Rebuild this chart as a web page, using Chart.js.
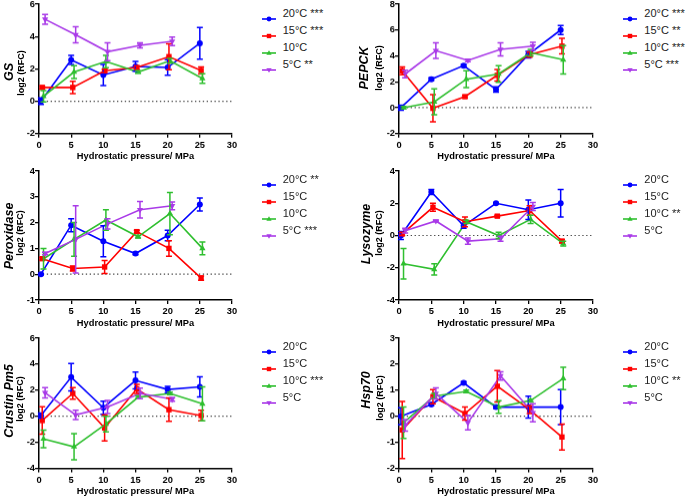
<!DOCTYPE html>
<html><head><meta charset="utf-8">
<script src="https://cdn.jsdelivr.net/npm/chart.js@4"></script>
<style>
body{margin:0;width:685px;height:498px;position:relative;overflow:hidden;background:#fff;font-family:"Liberation Sans",Arial,sans-serif;}
.box{position:absolute;}
.yt{position:absolute;transform:translate(-50%,-50%) rotate(-90deg);white-space:nowrap;font-weight:bold;color:#000;line-height:1;}
.lt{position:absolute;font-size:11px;line-height:13px;color:#222;white-space:nowrap;}
.lm{position:absolute;}
</style></head><body>
<script>
// x positions (MPa, nudged as in the original figure)
const x20 = [0.3, 5, 10, 15, 20, 25];
const x15 = [0.5, 5.25, 10.2, 15.2, 20.2, 25.2];
const x10 = [0.7, 5.45, 10.4, 15.4, 20.35, 25.4];
const x5  = [0.95, 5.7, 10.65, 15.7, 20.7];

// GS
const gs20 = [0, 2.55, 1.62, 2.15, 2.08, 3.58], gs20e = [0.2, 0.28, 0.65, 0.3, 0.48, 0.98];
const gs15 = [0.85, 0.85, 1.88, 2.08, 2.75, 1.9], gs15e = [0.08, 0.38, 0.1, 0.1, 0.8, 0.22];
const gs10 = [0.3, 1.8, 2.45, 1.8, 2.5, 1.4], gs10e = [0.35, 0.4, 0.38, 0.08, 0.15, 0.3];
const gs5  = [5.06, 4.1, 3.06, 3.45, 3.7], gs5e = [0.3, 0.5, 0.55, 0.15, 0.27];
const gsLabels = ['20°C ***', '15°C ***', '10°C', '5°C **'];

// PEPCK
const pe20 = [0, 2.2, 3.25, 1.4, 4.1, 6.0], pe20e = [0.2, 0.1, 0.1, 0.2, 0.25, 0.35];
const pe15 = [2.85, -0.05, 0.85, 2.5, 4.1, 4.75], pe15e = [0.3, 1.05, 0.1, 0.45, 0.2, 0.6];
const pe10 = [0, 0.45, 2.2, 2.6, 4.25, 3.7], pe10e = [0.1, 1.0, 0.65, 0.65, 0.25, 1.1];
const pe5  = [2.6, 4.4, 3.65, 4.5, 4.75], pe5e = [0.3, 0.6, 0.1, 0.5, 0.3];
const peLabels = ['20°C ***', '15°C **', '10°C ***', '5°C ***'];

// Peroxidase
const px20 = [0, 1.9, 1.28, 0.8, 1.5, 2.7], px20e = [0.03, 0.25, 0.6, 0.05, 0.2, 0.25];
const px15 = [0.6, 0.22, 0.28, 1.65, 1.0, -0.15], px15e = [0.05, 0.1, 0.25, 0.05, 0.3, 0.08];
const px10 = [0.6, 1.35, 2.1, 1.45, 2.35, 1.0], px10e = [0.4, 0.65, 0.4, 0.05, 0.82, 0.25];
const px5  = [0.8, 1.35, 1.95, 2.5, 2.65], px5e = [0.05, 1.3, 0.2, 0.32, 0.15];
const pxLabels = ['20°C **', '15°C', '10°C', '5°C ***'];

// Lysozyme
const ly20 = [0, 2.7, 0.6, 2.0, 1.6, 2.0], ly20e = [0.25, 0.15, 0.15, 0.05, 0.6, 0.85];
const ly15 = [0.1, 1.75, 0.85, 1.2, 1.55, -0.35], ly15e = [0.1, 0.25, 0.3, 0.05, 0.3, 0.1];
const ly10 = [-1.75, -2.1, 0.85, 0, 1.0, -0.5], ly10e = [0.95, 0.35, 0.1, 0.2, 0.25, 0.15];
const ly5  = [0.3, 0.9, -0.35, -0.2, 1.8], ly5e = [0.15, 0.05, 0.2, 0.15, 0.25];
const lyLabels = ['20°C', '15°C', '10°C **', '5°C'];

// Crustin Pm5
const cr20 = [0.05, 3.0, 0.65, 2.75, 2.05, 2.25], cr20e = [0.2, 1.05, 0.5, 0.65, 0.25, 0.78];
const cr15 = [-0.33, 1.75, -0.9, 2.1, 0.5, 0.05], cr15e = [1.05, 0.45, 1.0, 0.35, 0.9, 0.4];
const cr10 = [-1.75, -2.35, -0.6, 1.45, 1.75, 0.95], cr10e = [0.67, 1.0, 0.6, 0.1, 0.1, 1.3];
const cr5  = [1.8, 0.1, 0.7, 1.75, 1.3], cr5e = [0.4, 0.35, 0.5, 0.4, 0.15];
const crLabels = ['20°C', '15°C', '10°C ***', '5°C'];

// Hsp70
const hs20 = [0, 0.45, 1.28, 0.35, 0.35, 0.35], hs20e = [0.32, 0.05, 0.05, 0.05, 0.42, 0.67];
const hs15 = [-0.53, 0.75, 0.1, 1.15, 0.25, -0.8], hs15e = [1.1, 0.27, 0.25, 0.6, 0.15, 0.5];
const hs10 = [-0.25, 0.77, 0.95, 0.35, 0.6, 1.45], hs10e = [0.6, 0.1, 0.05, 0.24, 0.05, 0.43];
const hs5  = [-0.35, 0.87, -0.25, 1.55, 0.13], hs5e = [0.22, 0.22, 0.28, 0.16, 0.35];
const hsLabels = ['20°C', '15°C', '10°C **', '5°C'];

const COLORS = ['#0000ff', '#ff0000', '#2fbf2f', '#a93ae8'];
const XS = [x20, x15, x10, x5];
const STYLES = [
  {pointStyle: 'circle', pointRadius: 3, rotation: 0},
  {pointStyle: 'rect', pointRadius: 3.8, rotation: 0},
  {pointStyle: 'triangle', pointRadius: 3.6, rotation: 0},
  {pointStyle: 'triangle', pointRadius: 3.6, rotation: 180}
];

const panels = [
  {name: 'GS', L: 39.3, T: 4, R: 232.3, B: 132.7, min: -2, max: 6, step: 2,
   s: [[gs20, gs20e], [gs15, gs15e], [gs10, gs10e], [gs5, gs5e]], labels: gsLabels,
   nx: 8.5, ny: 72, lx: 21.3, ly: 72.5, gx: 261.7, gy: 13.3},
  {name: 'PEPCK', L: 398.8, T: 4, R: 592.8, B: 132.7, min: -2, max: 8, step: 2,
   s: [[pe20, pe20e], [pe15, pe15e], [pe10, pe10e], [pe5, pe5e]], labels: peLabels,
   nx: 364.3, ny: 68, lx: 379.3, ly: 67.5, gx: 623.3, gy: 13.3},
  {name: 'Peroxidase', L: 39.3, T: 171, R: 232.3, B: 300, min: -1, max: 4, step: 1,
   s: [[px20, px20e], [px15, px15e], [px10, px10e], [px5, px5e]], labels: pxLabels,
   nx: 8.7, ny: 236, lx: 20.3, ly: 232.5, gx: 261.7, gy: 179.3},
  {name: 'Lysozyme', L: 398.8, T: 171, R: 592.8, B: 300, min: -4, max: 4, step: 2,
   s: [[ly20, ly20e], [ly15, ly15e], [ly10, ly10e], [ly5, ly5e]], labels: lyLabels,
   nx: 365.7, ny: 234, lx: 379.3, ly: 233, gx: 623.3, gy: 179.3},
  {name: 'Crustin Pm5', L: 39.3, T: 338.3, R: 232.3, B: 467.7, min: -4, max: 6, step: 2,
   s: [[cr20, cr20e], [cr15, cr15e], [cr10, cr10e], [cr5, cr5e]], labels: crLabels,
   nx: 8.7, ny: 401, lx: 20.3, ly: 398.5, gx: 261.7, gy: 346.3},
  {name: 'Hsp70', L: 398.8, T: 338.3, R: 592.8, B: 467.7, min: -2, max: 3, step: 1,
   s: [[hs20, hs20e], [hs15, hs15e], [hs10, hs10e], [hs5, hs5e]], labels: hsLabels,
   nx: 365.7, ny: 390, lx: 380, ly: 398, gx: 623.3, gy: 346.3}
];

const errPlugin = {
  id: 'errbars',
  afterDatasetsDraw(chart) {
    const ctx = chart.ctx, xs = chart.scales.x, ys = chart.scales.y;
    chart.data.datasets.forEach(ds => {
      if (!ds.err) return;
      ctx.save();
      ctx.strokeStyle = ds.borderColor;
      ctx.lineWidth = 1.5;
      ds.data.forEach((pt, j) => {
        const e = ds.err[j];
        if (!e) return;
        const px = xs.getPixelForValue(pt.x);
        const y1 = ys.getPixelForValue(pt.y + e), y2 = ys.getPixelForValue(pt.y - e);
        ctx.beginPath();
        ctx.moveTo(px, y1); ctx.lineTo(px, y2);
        ctx.moveTo(px - 3, y1); ctx.lineTo(px + 3, y1);
        ctx.moveTo(px - 3, y2); ctx.lineTo(px + 3, y2);
        ctx.stroke();
      });
      ctx.restore();
    });
  }
};

const FONT = '"Liberation Sans", Arial, sans-serif';

function legendMarker(i) {
  const c = COLORS[i];
  let m = '';
  if (i === 0) m = `<circle cx="7" cy="4" r="2.4" fill="${c}"/>`;
  else if (i === 1) m = `<rect x="4.8" y="1.8" width="4.4" height="4.4" fill="${c}"/>`;
  else if (i === 2) m = `<polygon points="7,1.3 9.6,5.8 4.4,5.8" fill="${c}"/>`;
  else m = `<polygon points="7,6.7 9.6,2.2 4.4,2.2" fill="${c}"/>`;
  return `<svg width="14" height="8" viewBox="0 0 14 8"><line x1="0" y1="4" x2="14" y2="4" stroke="${c}" stroke-width="1.6"/>${m}</svg>`;
}

panels.forEach(p => {
  const PADL = 10, YW = 30, PADR = 20, PADT = 12, XH = 30;
  const W = PADL + YW + (p.R - p.L) + PADR;
  const H = PADT + (p.B - p.T) + XH;
  const box = document.createElement('div');
  box.className = 'box';
  box.style.width = W + 'px';
  box.style.height = H + 'px';
  box.style.left = (p.L - PADL - YW) + 'px';
  box.style.top = (p.T - PADT) + 'px';
  const cv = document.createElement('canvas');
  box.appendChild(cv);
  document.body.appendChild(box);

  const datasets = [{
    data: [{x: 0, y: 0}, {x: 30, y: 0}],
    borderColor: '#444', borderWidth: 1.2, borderDash: [1.3, 2.6],
    pointRadius: 0, order: 10, clip: false, fill: false
  }];
  p.s.forEach((ser, i) => {
    const xs = XS[i];
    datasets.push({
      data: ser[0].map((v, j) => ({x: xs[j], y: v})),
      err: ser[1],
      borderColor: COLORS[i], backgroundColor: COLORS[i],
      borderWidth: 1.6,
      pointStyle: STYLES[i].pointStyle, pointRadius: STYLES[i].pointRadius,
      pointRotation: STYLES[i].rotation, pointBorderWidth: 0,
      order: 4 - i, clip: false, fill: false, tension: 0
    });
  });

  const tickFont = {family: FONT, size: 9.3, weight: 'bold'};
  const chart = new Chart(cv, {
    type: 'line',
    data: {datasets},
    options: {
      responsive: true, maintainAspectRatio: false, animation: false,
      layout: {padding: {left: PADL, right: PADR, top: PADT, bottom: 0}},
      plugins: {legend: {display: false}, tooltip: {enabled: false}},
      scales: {
        x: {
          type: 'linear', min: 0, max: 30,
          ticks: {stepSize: 5, color: '#000', font: tickFont, padding: 2, maxRotation: 0},
          grid: {display: true, drawOnChartArea: false, drawTicks: true, tickLength: 4, color: '#000', lineWidth: 1.3},
          border: {display: true, color: '#000', width: 1.5},
          title: {display: true, text: 'Hydrostatic pressure/ MPa', color: '#000',
                  font: {family: FONT, size: 9.3, weight: 'bold'}, padding: {top: 0, bottom: 1.4}},
          afterFit(s) { s.height = XH; }
        },
        y: {
          type: 'linear', min: p.min, max: p.max,
          ticks: {stepSize: p.step, color: '#000', font: tickFont, padding: 0},
          grid: {display: true, drawOnChartArea: false, drawTicks: true, tickLength: 4, color: '#000', lineWidth: 1.3},
          border: {display: true, color: '#000', width: 1.5},
          afterFit(s) { s.width = YW; }
        }
      }
    },
    plugins: [errPlugin]
  });
  const ca = chart.chartArea;
  box.style.left = (p.L - ca.left) + 'px';
  box.style.top = (p.T - ca.top) + 'px';

  // y-axis titles
  const n = document.createElement('div');
  n.className = 'yt';
  n.style.cssText += `left:${p.nx}px;top:${p.ny}px;font-size:12.5px;font-style:italic;`;
  n.textContent = p.name;
  document.body.appendChild(n);
  const l = document.createElement('div');
  l.className = 'yt';
  l.style.cssText += `left:${p.lx}px;top:${p.ly}px;font-size:9px;`;
  l.textContent = 'log2 (RFC)';
  document.body.appendChild(l);

  // legend
  p.labels.forEach((lab, i) => {
    const y = p.gy + i * 17;
    const m = document.createElement('div');
    m.className = 'lm';
    m.style.left = p.gx + 'px';
    m.style.top = (y - 4) + 'px';
    m.style.height = '8px';
    m.innerHTML = legendMarker(i);
    document.body.appendChild(m);
    const t = document.createElement('div');
    t.className = 'lt';
    t.style.left = (p.gx + 21) + 'px';
    t.style.top = (y - 6.5) + 'px';
    t.textContent = lab;
    document.body.appendChild(t);
  });
});
</script>
</body></html>
